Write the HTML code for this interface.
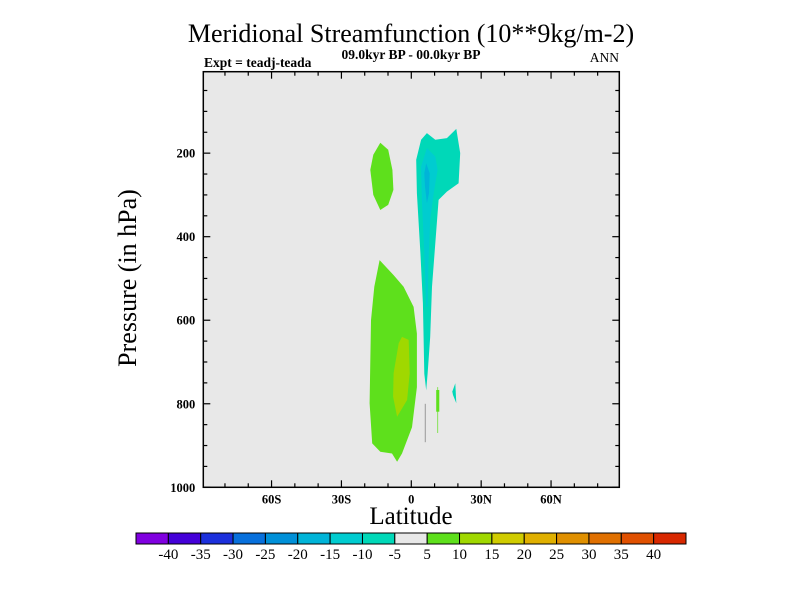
<!DOCTYPE html>
<html><head><meta charset="utf-8"><style>
body{margin:0;background:#fff;}
svg text{font-family:"Liberation Serif",serif;fill:#000;}
</style></head><body>
<svg id="c" width="800" height="600" viewBox="0 0 800 600" xmlns="http://www.w3.org/2000/svg">
<text x="411" y="42" font-size="26" text-anchor="middle">Meridional Streamfunction (10**9kg/m-2)</text>
<text x="411" y="59" font-size="13.5" font-weight="600" text-anchor="middle">09.0kyr BP - 00.0kyr BP</text>
<text x="204" y="67" font-size="13.5" font-weight="600">Expt = teadj-teada</text>
<text x="619" y="62" font-size="13.5" text-anchor="end">ANN</text>
<rect x="203.3" y="71.7" width="416" height="415.6" fill="#e8e8e8"/>
<g id="contours"></g>
<rect x="203.3" y="71.7" width="416" height="415.6" fill="none" stroke="#000" stroke-width="1.5"/>
<g id="ticks"></g>
<text transform="translate(136,278) rotate(-90)" font-size="26" text-anchor="middle">Pressure (in hPa)</text>
<text x="411" y="524" font-size="25" text-anchor="middle">Latitude</text>
<g id="cbar"></g>
</svg>
<script>
const levelLabels=[-40,-35,-30,-25,-20,-15,-10,-5,5,10,15,20,25,30,35,40];
const levelColors=["#8000e0","#4400d8","#1c30dc","#0870dc","#0090d8","#00b4d8","#00ccd0","#00d8b8","#e8e8e8","#5ee01c","#a0d800","#d0cc00","#e0b000","#e09000","#e07000","#e05000","#d82800"];
const yTicks=[200,400,600,800,1000];
const xTicks=[-60,-30,0,30,60];
const xTickLabels=["60S","30S","0","30N","60N"];
const greenUpperLat=[-13.3,-9.9,-8.1,-7.7,-9.9,-13.3,-16.3,-17.6,-16.3];
const greenUpperP=[175,192,240,288,324,336,300,240,204];
const greenLowerLat=[-13.6,-7.6,-3.3,1.0,2.4,2.4,0.3,-4.0,-6.1,-8.3,-13.3,-16.8,-17.9,-17.3,-15.9];
const greenLowerP=[456,492,520,568,632,760,856,919,939,919,915,895,799,600,520];
const yellowLat=[-4.0,-1.1,-0.7,-1.8,-6.1,-7.8,-7.6,-5.4];
const yellowP=[640,647,727,791,831,783,727,655];
const tealLat=[6.7,10.3,15.3,19.3,21.0,20.3,15.3,11.7,8.9,8.1,7.0,6.4,5.6,5.0,3.9,2.4,2.1,4.2];
const tealP=[152,168,164,142,200,272,292,312,520,640,728,768,728,559,439,296,216,168];
const cyanLat=[6.7,10.3,11.3,9.6,8.1,7.4,7.0,6.4,5.6,4.6,4.2];
const cyanP=[188,208,240,296,360,456,568,568,440,320,232];
const blueLat=[6.4,7.9,7.6,6.7,5.9,5.6];
const blueP=[224,248,296,320,280,248];
const smallTealLat=[18.9,19.3,17.9,17.6];
const smallTealP=[751,799,779,771];
const smallGreenLat=[10.7,12.0,12.0,10.7];
const smallGreenP=[767,767,819,819];
const thinGreenLat=[11.2,11.5,11.5,11.2];
const thinGreenP=[760,760,870,870];
const thinTealLat=[5.8,6.2,6.2,5.8];
const thinTealP=[800,800,892,892];

const NS="http://www.w3.org/2000/svg";
const X0=203.3,X1=619.3,Y0=71.7,Y1=487.3,LATMIN=-89.3,LATMAX=89.3,PMIN=5,PMAX=1000;
function xs(lat){return X0+(lat-LATMIN)/(LATMAX-LATMIN)*(X1-X0);}
function ys(p){return Y0+(p-PMIN)/(PMAX-PMIN)*(Y1-Y0);}
function mk(tag,attrs,parent){const e=document.createElementNS(NS,tag);for(const k in attrs)e.setAttribute(k,attrs[k]);parent.appendChild(e);return e;}
const cg=document.getElementById('contours');
function poly(lats,ps,color,name){
  const pts=lats.map((l,i)=>xs(l).toFixed(1)+","+ys(ps[i]).toFixed(1)).join(" ");
  const e=mk('polygon',{points:pts,fill:color},cg);
  
  
}
poly(greenUpperLat,greenUpperP,levelColors[9],'contour-positive-upper');
poly(greenLowerLat,greenLowerP,levelColors[9],'contour-positive-lower');
poly(yellowLat,yellowP,levelColors[10],'contour-positive-core');
poly(tealLat,tealP,levelColors[7],'contour-negative-outer');
poly(cyanLat,cyanP,levelColors[6],'contour-negative-mid');
poly(blueLat,blueP,levelColors[5],'contour-negative-core');
poly(smallTealLat,smallTealP,levelColors[7],'contour-negative-small');
poly(thinGreenLat,thinGreenP,levelColors[9],'contour-positive-thin');
poly(smallGreenLat,smallGreenP,levelColors[9],'contour-positive-small');
poly(thinTealLat,thinTealP,'#909090','contour-thin-line');

const tg=document.getElementById('ticks');
function line(x1,y1,x2,y2){mk('line',{x1:x1,y1:y1,x2:x2,y2:y2,stroke:'#000','stroke-width':1.2},tg);}
for(let p=50;p<=1000;p+=50){
  const y=ys(p),len=(p%200===0)?7:4;
  line(X0,y,X0+len,y);line(X1,y,X1-len,y);
}
yTicks.forEach(p=>{
  const t=mk('text',{x:X0-8,y:ys(p)+4.5,'font-size':12.5,'font-weight':'bold','text-anchor':'end'},tg);
  t.textContent=p;
  
  
});
for(let l=-80;l<=80;l+=10){
  const x=xs(l),len=(l%30===0)?7:4;
  line(x,Y1,x,Y1-len);line(x,Y0,x,Y0+len);
}
xTicks.forEach((l,i)=>{
  const t=mk('text',{x:xs(l),y:Y1+16,'font-size':12.5,'font-weight':'bold','text-anchor':'middle'},tg);
  t.textContent=xTickLabels[i];
  
  
});
const cb=document.getElementById('cbar');
const CB0=136,CB1=686,CBY=533,CBH=11,bw=(CB1-CB0)/levelColors.length;
levelColors.forEach((c,i)=>{
  const r=mk('rect',{x:CB0+i*bw,y:CBY,width:bw,height:CBH,fill:c,stroke:'#000','stroke-width':1},cb);
  
  
});
levelLabels.forEach((v,i)=>{
  const t=mk('text',{x:CB0+(i+1)*bw,y:CBY+26,'font-size':15,'text-anchor':'middle'},cb);
  t.textContent=v;
  
  
});
</script>
</body></html>
